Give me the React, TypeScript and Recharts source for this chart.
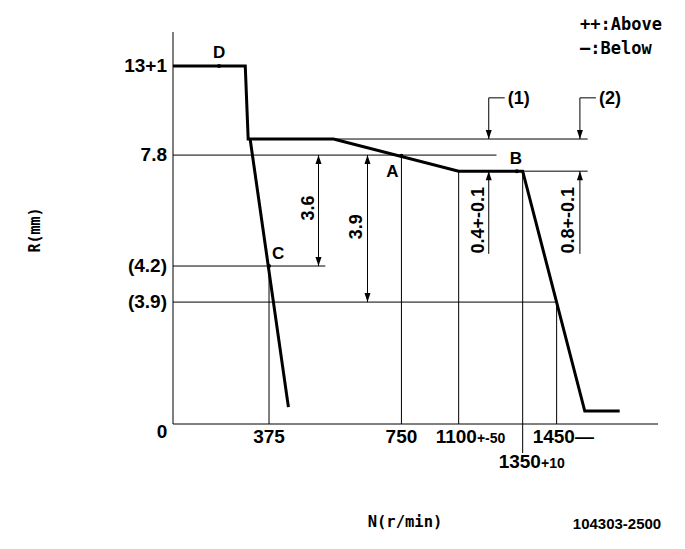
import React from "react";
import { ComposedChart, Line, XAxis, YAxis, ReferenceLine, ReferenceDot } from "recharts";

// The drawing is schematic: rpm and rack values are not to scale,
// so everything sits on a 0-100 plot grid and the ticks carry the real labels.
const X_TICKS = [19.8, 47.1, 58.9, 72.1, 79.1];
const X_LABELS = ["375", "750", "1100", "1350", "1450"];
const X_SUFFIX = ["", "", "+-50", "+10", "—"];
const Y_TICKS = [91.3, 68.6, 40.3, 31.1, 0];
const Y_LABELS = ["13+1", "7.8", "(4.2)", "(3.9)", "0"];

// governor curve
const MAIN_X = [0, 14.9, 15.5, 33.1, 58.9, 72.1, 84.9, 92.1];
const MAIN_Y = [91.3, 91.3, 72.7, 72.7, 64.5, 64.5, 3.3, 3.3];
// idle branch
const IDLE_X = [15.9, 23.8];
const IDLE_Y = [72.7, 4.3];

// measuring points
const POINT_NAMES = ["D", "A", "B", "C"];
const POINT_X = [9.5, 47.1, 70.9, 19.8];
const POINT_Y = [91.3, 68.4, 64.5, 40.3];

// thin guide lines: level, from, to
const GUIDE_H: [number, number, number][] = [
  [72.7, 33.1, 85.5],
  [68.6, 0, 66.7],
  [64.5, 72.1, 85.5],
  [40.3, 0, 31.4],
  [31.1, 0, 79.1],
];
const GUIDE_V: [number, number, number][] = [
  [19.8, 0, 40.3],
  [47.1, 0, 68.6],
  [58.9, 0, 64.5],
  [72.1, -7.4, 64.5],
  [79.1, 0, 31.1],
];

// dimensions 3.6 / 3.9
const DIM_X = [30.0, 40.1];
const DIM_TOP = [68.6, 68.6];
const DIM_BOTTOM = [40.3, 31.1];
const DIM_TEXT = ["3.6", "3.9"];
const DIM_TEXT_X = [27.9, 37.8];
const DIM_TEXT_Y = [55.1, 50.3];

// tolerances (1) / (2)
const TOL_X = [65.1, 83.9];
const TOL_NAMES = ["(1)", "(2)"];
const TOL_TEXT = ["0.4+-0.1", "0.8+-0.1"];
const TOL_TEXT_X = [62.8, 81.4];

const toPoints = (xs: number[], ys: number[]) => xs.map((x, i) => ({ x, y: ys[i] }));
const mainData = toPoints(MAIN_X, MAIN_Y);
const idleData = toPoints(IDLE_X, IDLE_Y);

const NARROW = "'Liberation Sans Narrow', 'Liberation Sans', sans-serif";
const MONO = "'DejaVu Sans Mono', monospace";

const arrow = (down: boolean) => (p: any) => {
  const b = down ? p.cy - 9 : p.cy + 9;
  return <polygon points={`${p.cx},${p.cy} ${p.cx - 3},${b} ${p.cx + 3},${b}`} fill="#000" />;
};

const textShape = (t: string, opts: { rotate?: boolean; dx?: number; dy?: number; size?: number } = {}) => (p: any) => {
  const x = p.cx + (opts.dx || 0);
  const y = p.cy + (opts.dy || 0);
  return (
    <text
      x={x}
      y={y}
      textAnchor="middle"
      dominantBaseline="central"
      fontFamily={NARROW}
      fontWeight="bold"
      fontSize={opts.size || 18}
      fill="#000"
      transform={opts.rotate ? `rotate(-90 ${x} ${y})` : undefined}
    >
      {t}
    </text>
  );
};

function XTick(props: any) {
  const { x, y, payload } = props;
  const i = X_TICKS.indexOf(payload.value);
  if (i < 0) return null;
  const small = i === 2 || i === 3;
  const base = i === 3 ? y + 44 : y + 19;
  const anchorStart = i >= 2;
  const sx = i === 2 ? x - 23 : x - 24;
  return (
    <text
      x={anchorStart ? sx : x}
      y={base}
      textAnchor={anchorStart ? "start" : "middle"}
      fontFamily={NARROW}
      fontWeight="bold"
      fontSize={19}
      fill="#000"
    >
      {X_LABELS[i]}
      {X_SUFFIX[i] && <tspan fontSize={small ? 14 : 19}>{X_SUFFIX[i]}</tspan>}
    </text>
  );
}

function YTick(props: any) {
  const { x, y, payload } = props;
  const i = Y_TICKS.indexOf(payload.value);
  if (i < 0) return null;
  const zero = Y_LABELS[i] === "0";
  return (
    <text
      x={zero ? x - 11 : x - 6}
      y={zero ? y + 14 : y + 6}
      textAnchor={zero ? "middle" : "end"}
      fontFamily={NARROW}
      fontWeight="bold"
      fontSize={19}
      fill="#000"
    >
      {Y_LABELS[i]}
    </text>
  );
}

const labelStyle = (left: number, top: number, size: number, font = MONO): React.CSSProperties => ({
  position: "absolute",
  left,
  top,
  fontFamily: font,
  fontWeight: "bold",
  fontSize: size,
  lineHeight: 1,
  whiteSpace: "nowrap",
  color: "#000",
});

export default function App() {
  return (
    <div style={{ position: "absolute", left: 0, top: 0, width: 685, height: 549, background: "#fff" }}>
      <ComposedChart width={685} height={549} margin={{ top: 32, right: 27, left: 113, bottom: 95 }}>
        <XAxis
          type="number"
          dataKey="x"
          domain={[0, 100]}
          ticks={X_TICKS}
          tick={<XTick />}
          tickLine={false}
          tickSize={0}
          tickMargin={0}
          height={30}
          allowDataOverflow
          axisLine={{ stroke: "#000", strokeWidth: 1 }}
        />
        <YAxis
          type="number"
          domain={[0, 100]}
          ticks={Y_TICKS}
          tick={<YTick />}
          tickLine={false}
          tickSize={0}
          tickMargin={0}
          width={60}
          allowDataOverflow
          axisLine={{ stroke: "#000", strokeWidth: 1 }}
        />

        {GUIDE_H.map(([y, x1, x2], i) => (
          <ReferenceLine key={`h${i}`} segment={[{ x: x1, y }, { x: x2, y }]} stroke="#000" strokeWidth={1} ifOverflow="visible" />
        ))}
        {GUIDE_V.map(([x, y1, y2], i) => (
          <ReferenceLine key={`v${i}`} segment={[{ x, y: y1 }, { x, y: y2 }]} stroke="#000" strokeWidth={1} ifOverflow="visible" />
        ))}

        {DIM_X.map((x, i) => (
          <ReferenceLine key={`d${i}`} segment={[{ x, y: DIM_TOP[i] }, { x, y: DIM_BOTTOM[i] }]} stroke="#000" strokeWidth={1} />
        ))}
        {DIM_X.map((x, i) => (
          <ReferenceDot key={`du${i}`} x={x} y={DIM_TOP[i]} shape={arrow(false)} />
        ))}
        {DIM_X.map((x, i) => (
          <ReferenceDot key={`dd${i}`} x={x} y={DIM_BOTTOM[i]} shape={arrow(true)} />
        ))}
        {DIM_TEXT.map((t, i) => (
          <ReferenceDot key={`dt${i}`} x={DIM_TEXT_X[i]} y={DIM_TEXT_Y[i]} shape={textShape(t, { rotate: true })} />
        ))}

        {TOL_X.map((x, i) => (
          <ReferenceLine key={`ta${i}`} segment={[{ x, y: 83.2 }, { x, y: 72.7 }]} stroke="#000" strokeWidth={1} />
        ))}
        {TOL_X.map((x, i) => (
          <ReferenceLine key={`tl${i}`} segment={[{ x, y: 83.2 }, { x: x + 3.3, y: 83.2 }]} stroke="#000" strokeWidth={1} />
        ))}
        {TOL_X.map((x, i) => (
          <ReferenceLine key={`tb${i}`} segment={[{ x, y: 64.5 }, { x, y: 43.4 }]} stroke="#000" strokeWidth={1} />
        ))}
        {TOL_X.map((x, i) => (
          <ReferenceDot key={`tdn${i}`} x={x} y={72.7} shape={arrow(true)} />
        ))}
        {TOL_X.map((x, i) => (
          <ReferenceDot key={`tup${i}`} x={x} y={64.5} shape={arrow(false)} />
        ))}
        {TOL_NAMES.map((t, i) => (
          <ReferenceDot key={`tn${i}`} x={TOL_X[i]} y={83.2} shape={textShape(t, { dx: 30, size: 18 })} />
        ))}
        {TOL_TEXT.map((t, i) => (
          <ReferenceDot key={`tt${i}`} x={TOL_TEXT_X[i]} y={52.0} shape={textShape(t, { rotate: true })} />
        ))}

        <Line data={mainData} dataKey="y" type="linear" stroke="#000" strokeWidth={3} strokeLinejoin="miter" dot={false} isAnimationActive={false} />
        <Line data={idleData} dataKey="y" type="linear" stroke="#000" strokeWidth={3} dot={false} isAnimationActive={false} />

        {POINT_NAMES.map((n, i) => (
          <ReferenceDot key={`p${i}`} x={POINT_X[i]} y={POINT_Y[i]} r={2} fill="#000" stroke="none" />
        ))}
        {POINT_NAMES.map((n, i) => (
          <ReferenceDot
            key={`pl${i}`}
            x={POINT_X[i]}
            y={POINT_Y[i]}
            shape={textShape(n, { dx: [0, -9, -1, 9][i], dy: [-14, 16, -13, -13][i], size: 17 })}
          />
        ))}
      </ComposedChart>

      <div style={labelStyle(580, 16, 17)}>++:Above</div>
      <div style={labelStyle(580, 40, 17)}>—:Below</div>
      <div
        style={{
          ...labelStyle(35, 230, 15),
          transform: "translate(-50%, -50%) rotate(-90deg)",
        }}
      >
        R(mm)
      </div>
      <div style={{ ...labelStyle(405, 523, 15.5), transform: "translate(-50%, -50%)" }}>N(r/min)</div>
      <div style={{ ...labelStyle(617, 523, 15, NARROW), transform: "translate(-50%, -50%)" }}>104303-2500</div>
    </div>
  );
}
